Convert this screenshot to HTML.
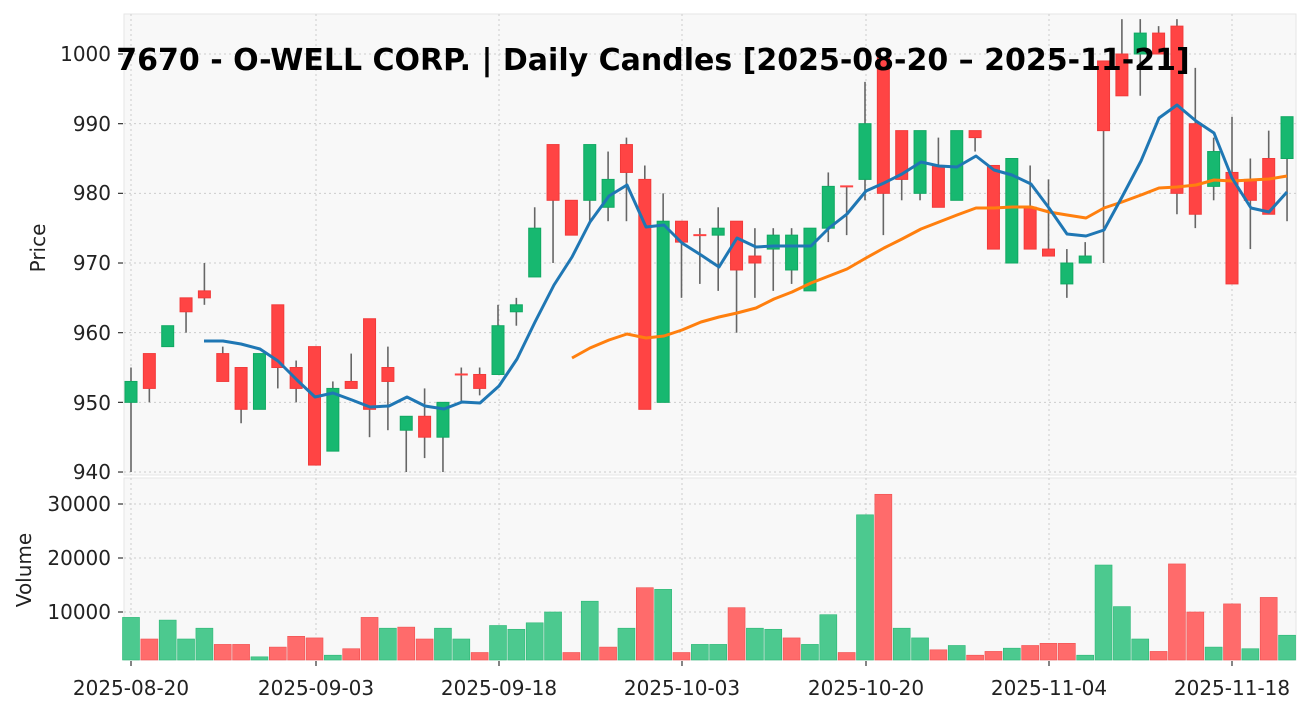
<!DOCTYPE html>
<html><head><meta charset="utf-8"><style>
body{margin:0;background:#fff;}
svg{display:block;font-family:"DejaVu Sans","Liberation Sans",sans-serif;}
</style></head><body>
<svg id="s" width="1310" height="711" viewBox="0 0 1310 711" xmlns="http://www.w3.org/2000/svg">
<rect x="124" y="14" width="1172" height="461" fill="#f8f8f8" stroke="#e6e6e6"/>
<rect x="124" y="478" width="1172" height="182" fill="#f8f8f8" stroke="#e6e6e6"/>
<g id="grid" stroke="#cccccc" stroke-dasharray="2,3" stroke-width="1"></g>
<g id="ticks" stroke="#333" stroke-width="1.2"></g>
<g id="vol"></g>
<g id="cand"></g>
<g id="ma"></g>
<g font-size="20" fill="#222" text-anchor="end">
<text x="111" y="61">1000</text><text x="111" y="131">990</text><text x="111" y="200">980</text><text x="111" y="270">970</text><text x="111" y="340">960</text><text x="111" y="410">950</text><text x="111" y="479">940</text>
<text x="111" y="511">30000</text><text x="111" y="565">20000</text><text x="111" y="619">10000</text>
</g>
<g font-size="20" fill="#222" text-anchor="middle">
<text x="131" y="695">2025-08-20</text><text x="316" y="695">2025-09-03</text><text x="499" y="695">2025-09-18</text><text x="682" y="695">2025-10-03</text><text x="866" y="695">2025-10-20</text><text x="1049" y="695">2025-11-04</text><text x="1232" y="695">2025-11-18</text>
</g>
<text transform="translate(45,248) rotate(-90)" font-size="20" fill="#222" text-anchor="middle">Price</text>
<text transform="translate(31,570) rotate(-90)" font-size="20" fill="#222" text-anchor="middle">Volume</text>
<text x="653" y="70" font-size="30" font-weight="bold" fill="#000" text-anchor="middle">7670 - O-WELL CORP. | Daily Candles [2025-08-20 – 2025-11-21]</text>
</svg>
<script>
const NS="http://www.w3.org/2000/svg";
function el(p,t,a){const e=document.createElementNS(NS,t);for(const k in a)e.setAttribute(k,a[k]);document.getElementById(p).appendChild(e);return e;}
const X=i=>131+i*18.35, Y=p=>54+(1000-p)*6.967, V=v=>612-(v-10000)*0.0054;
[131,316,499,682,866,1049,1232].forEach(x=>{el('grid','line',{x1:x,x2:x,y1:14,y2:475});el('grid','line',{x1:x,x2:x,y1:478,y2:660});el('ticks','line',{x1:x,x2:x,y1:661,y2:666});});
[1000,990,980,970,960,950,940].forEach(p=>{el('grid','line',{x1:124,x2:1296,y1:Y(p),y2:Y(p)});el('ticks','line',{x1:118,x2:123,y1:Y(p),y2:Y(p)});});
[10000,20000,30000].forEach(v=>{el('grid','line',{x1:124,x2:1296,y1:V(v),y2:V(v)});el('ticks','line',{x1:118,x2:123,y1:V(v),y2:V(v)});});
const C=[[950,953,955,940,1],[952,957,957,950,0],[958,961,961,958,1],[963,965,965,960,0],[965,966,970,964,0],[953,957,958,953,0],[949,955,955,947,0],[949,957,957,949,1],[955,964,964,952,0],[952,955,956,950,0],[941,958,958,941,0],[943,952,953,943,1],[952,953,957,952,0],[949,962,962,945,0],[953,955,958,946,0],[946,948,948,940,1],[945,948,952,942,0],[945,950,950,940,1],[954,954,955,950,0],[952,954,955,951,0],[954,961,964,954,1],[963,964,965,961,1],[968,975,978,968,1],[979,987,987,970,0],[974,979,979,974,0],[979,987,987,976,1],[978,982,986,976,1],[983,987,988,976,0],[949,982,984,949,0],[950,976,980,950,1],[973,976,976,965,0],[974,974,975,967,0],[974,975,978,966,1],[969,976,976,960,0],[970,971,975,965,0],[972,974,975,966,1],[969,974,975,967,1],[966,975,975,966,1],[975,981,983,973,1],[981,981,981,974,0],[982,990,996,979,1],[980,999.5,999.5,974,0],[982,989,989,979,0],[980,989,989,979,1],[978,984,988,978,0],[979,989,989,979,1],[988,989,989,986,0],[972,984,984,972,0],[970,985,985,970,1],[972,978,984,972,0],[971,972,982,971,0],[967,970,972,965,1],[970,971,973,970,1],[989,999,999,970,0],[994,1000,1005,994,0],[1000,1003,1005,994,1],[1000,1003,1004,1000,0],[980,1004,1005,977,0],[977,990,998,975,0],[981,986,988,979,1],[967,983,991,967,0],[979,982,985,972,0],[977,985,989,977,0],[985,991,991,976,1]];
const Vo=[[9000,1],[5000,0],[8500,1],[5000,1],[7000,1],[4000,0],[4000,0],[1700,1],[3500,0],[5500,0],[5200,0],[2000,1],[3200,0],[9000,0],[7000,1],[7200,0],[5000,0],[7000,1],[5000,1],[2500,0],[7500,1],[6800,1],[8000,1],[10000,1],[2500,0],[12000,1],[3500,0],[7000,1],[14500,0],[14200,1],[2500,0],[4000,1],[4000,1],[10800,0],[7000,1],[6800,1],[5200,0],[4000,1],[9500,1],[2500,0],[28000,1],[31800,0],[7000,1],[5200,1],[3000,0],[3800,1],[2000,0],[2700,0],[3300,1],[3800,0],[4200,0],[4200,0],[2000,1],[18700,1],[11000,1],[5000,1],[2700,0],[18900,0],[10000,0],[3500,1],[11500,0],[3200,1],[12700,0],[5700,1]];
Vo.forEach((v,i)=>{const y=V(v[0]);el('vol','rect',{x:X(i)-8.5,y:y,width:17,height:660-y,fill:v[1]?'#4cc98f':'#ff6b6b',stroke:v[1]?'#2bb876':'#f05050','stroke-width':0.6});});
C.forEach((c,i)=>{const x=X(i);el('cand','line',{x1:x,x2:x,y1:Y(c[2]),y2:Y(c[3]),stroke:'#666','stroke-width':1.6});
 const col=c[4]?'#17b870':'#ff4444';let h=Y(c[0])-Y(c[1]);
 if(h<1.5){el('cand','line',{x1:x-6.5,x2:x+6.5,y1:Y(c[0]),y2:Y(c[0]),stroke:col,'stroke-width':2});}
 else el('cand','rect',{x:x-6,y:Y(c[1]),width:12,height:h,fill:col,stroke:c[4]?'#10a862':'#f23a3a','stroke-width':1});});
const B=[[204,341],[223,341],[241,344],[260,349],[278,361],[297,380],[315,397],[333,393],[352,400],[370,407],[389,406],[407,397],[425,406],[444,409],[462,402],[480,403],[499,386],[517,359],[535,322],[554,285],[572,257],[590,222],[609,196],[627,185],[646,227],[664,225],[682,243],[701,255],[719,267],[737,238],[756,247],[774,246],[792,246],[811,246],[829,228],[847,214],[866,191],[884,183],[902,174],[921,162],[939,166],[957,167],[976,156],[994,170],[1012,175],[1031,184],[1049,208],[1067,234],[1086,236],[1104,230],[1122,197],[1141,161],[1159,118],[1177,105],[1196,121],[1214,133],[1232,178],[1251,208],[1269,212],[1287,192]];
const O=[[572,358],[590,348],[609,340],[627,334],[646,338],[664,336],[682,330],[701,322],[719,317],[737,313],[756,308],[774,299],[792,292],[811,283],[829,276],[847,269],[866,258],[884,248],[902,239],[921,229],[939,222],[957,215],[976,208],[994,208],[1012,207],[1031,207],[1049,212],[1067,215],[1086,218],[1104,208],[1122,202],[1141,195],[1159,188],[1177,187],[1196,185],[1214,180],[1232,181],[1251,180],[1269,179],[1287,176]];
el('ma','polyline',{points:O.map(p=>p.join(',')).join(' '),fill:'none',stroke:'#ff7f0e','stroke-width':3,'stroke-linejoin':'round'});
el('ma','polyline',{points:B.map(p=>p.join(',')).join(' '),fill:'none',stroke:'#1f77b4','stroke-width':3,'stroke-linejoin':'round'});
</script>
</body></html>
